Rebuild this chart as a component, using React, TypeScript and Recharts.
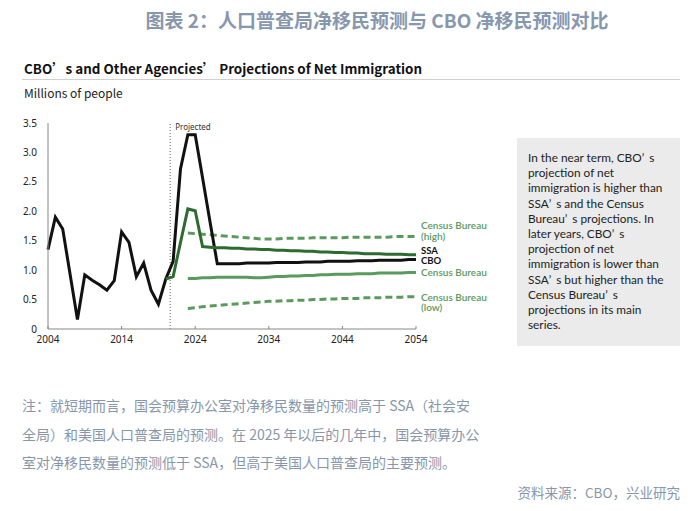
import { LineChart, Line, XAxis, YAxis, ReferenceLine } from "recharts";

// years on the x axis
const years = Array.from({ length: 51 }, (_, i) => 2004 + i);

// CBO: history from 2004, projection to 2054
const cbo = [
    1.35, 1.9, 1.7, 0.93, 0.16, 0.92, 0.83, 0.75, 0.66, 0.82,
    1.65, 1.47, 0.89, 1.12, 0.66, 0.42, 0.85, 1.15, 2.72, 3.3,
    3.3, 2.57, 1.83, 1.11, 1.11, 1.11, 1.11, 1.12, 1.12, 1.12,
    1.12, 1.13, 1.13, 1.13, 1.13, 1.14, 1.14, 1.14, 1.15, 1.15,
    1.15, 1.15, 1.16, 1.16, 1.16, 1.17, 1.17, 1.17, 1.17, 1.18,
    1.18,
];

// SSA from 2020
const ssaStart = 2020;
const ssa = [
    0.85, 0.89, 1.47, 2.04, 2.01, 1.4, 1.39, 1.38, 1.38, 1.37,
    1.37, 1.36, 1.36, 1.35, 1.35, 1.34, 1.34, 1.33, 1.33, 1.32,
    1.32, 1.31, 1.31, 1.3, 1.3, 1.29, 1.29, 1.28, 1.28, 1.28,
    1.27, 1.27, 1.27, 1.26, 1.26,
];

// Census Bureau series from 2023
const censusStart = 2023;
const census = [
    0.86, 0.86, 0.87, 0.87, 0.88, 0.88, 0.88, 0.88, 0.88, 0.87,
    0.87, 0.88, 0.89, 0.89, 0.9, 0.9, 0.91, 0.91, 0.92, 0.92,
    0.93, 0.93, 0.93, 0.94, 0.94, 0.94, 0.95, 0.95, 0.95, 0.95,
    0.96, 0.96,
];
const censusHigh = [
    1.63, 1.62, 1.61, 1.6, 1.59, 1.58, 1.57, 1.56, 1.55, 1.54,
    1.53, 1.53, 1.53, 1.54, 1.54, 1.54, 1.54, 1.55, 1.55, 1.55,
    1.55, 1.55, 1.56, 1.56, 1.56, 1.56, 1.56, 1.56, 1.57, 1.57,
    1.57, 1.57,
];
const censusLow = [
    0.35, 0.36, 0.38, 0.39, 0.4, 0.41, 0.42, 0.43, 0.44, 0.45,
    0.46, 0.47, 0.47, 0.48, 0.48, 0.49, 0.49, 0.5, 0.5, 0.51,
    0.51, 0.52, 0.52, 0.52, 0.53, 0.53, 0.53, 0.54, 0.54, 0.54,
    0.55, 0.55,
];

const xTicks = [2004, 2014, 2024, 2034, 2044, 2054];
const yTicks = [0, 0.5, 1, 1.5, 2, 2.5, 3, 3.5];
const projectedFrom = 2020.6;

const title = "图表 2：人口普查局净移民预测与 CBO 净移民预测对比";
const subtitle = "CBO’s and Other Agencies’ Projections of Net Immigration";
const unitLabel = "Millions of people";
const boxLines = [
    "In the near term, CBO’s",
    "projection of net",
    "immigration is higher than",
    "SSA’s and the Census",
    "Bureau’s projections. In",
    "later years, CBO’s",
    "projection of net",
    "immigration is lower than",
    "SSA’s but higher than the",
    "Census Bureau’s",
    "projections in its main",
    "series.",
];
const noteLines = [
    "注：就短期而言，国会预算办公室对净移民数量的预测高于 SSA（社会安",
    "全局）和美国人口普查局的预测。在 2025 年以后的几年中，国会预算办公",
    "室对净移民数量的预测低于 SSA，但高于美国人口普查局的主要预测。",
];
const source = "资料来源：CBO，兴业研究";

// labels next to the line ends: text, top, colour, weight, size
const seriesLabels: [string, number, string, number, number][] = [
    ["Census Bureau", 220, "#5a9a5c", 600, 10],
    ["(high)", 231, "#5a9a5c", 600, 10],
    ["SSA", 246.3, "#111111", 700, 9.5],
    ["CBO", 255.8, "#111111", 700, 9.5],
    ["Census Bureau", 266.5, "#5a9a5c", 600, 10],
    ["Census Bureau", 291.5, "#5a9a5c", 600, 10],
    ["(low)", 302, "#5a9a5c", 600, 10],
];

const at = (arr: number[], start: number, y: number) =>
    y >= start && y - start < arr.length ? arr[y - start] : null;

const data = years.map((y) => ({
    year: y,
    cbo: at(cbo, 2004, y),
    ssa: at(ssa, ssaStart, y),
    census: at(census, censusStart, y),
    censusHigh: at(censusHigh, censusStart, y),
    censusLow: at(censusLow, censusStart, y),
}));

const BLACK = "#111111";
const DARK_GREEN = "#2d6b30";
const GREEN = "#5a9a5c";
const NOTE = "#8796ab";
const CJK = "'Noto Sans CJK SC', 'Noto Sans', sans-serif";

// the source shows a wide gap after ’
function Quoted({ text }: { text: string }) {
    const parts = text.split("’");
    return (
        <>
            {parts.map((p, i) => (
                <span key={i}>
                    {p}
                    {i < parts.length - 1 && <span style={{ letterSpacing: 5 }}>’</span>}
                </span>
            ))}
        </>
    );
}

export default function App() {
    return (
        <div
            style={{
                position: "absolute",
                left: 0,
                top: 0,
                width: 700,
                height: 511,
                background: "#fff",
                overflow: "hidden",
                fontFamily: CJK,
            }}
        >
            <div
                style={{
                    position: "absolute",
                    left: 0,
                    width: 754,
                    top: 7,
                    textAlign: "center",
                    fontSize: 19,
                    fontWeight: 700,
                    color: "#8797ad",
                    lineHeight: "26px",
                    whiteSpace: "nowrap",
                }}
            >
                {title}
            </div>

            <div
                style={{
                    position: "absolute",
                    left: 24,
                    top: 58,
                    fontSize: 13.4,
                    fontWeight: 700,
                    color: "#111",
                    lineHeight: "20px",
                    whiteSpace: "nowrap",
                }}
            >
                {subtitle}
            </div>
            <div
                style={{
                    position: "absolute",
                    left: 22,
                    top: 79,
                    width: 658,
                    height: 1,
                    background: "#d0d0d0",
                }}
            />
            <div
                style={{
                    position: "absolute",
                    left: 24,
                    top: 85,
                    fontSize: 12,
                    color: "#222",
                    lineHeight: "16px",
                }}
            >
                {unitLabel}
            </div>

            <div style={{ position: "absolute", left: 0, top: 0 }}>
                <LineChart
                    width={700}
                    height={511}
                    data={data}
                    margin={{ top: 123, right: 284, bottom: 152, left: 0 }}
                >
                    <XAxis
                        dataKey="year"
                        type="number"
                        domain={[2004, 2054]}
                        ticks={xTicks}
                        height={30}
                        tickSize={-3}
                        tickMargin={10}
                        stroke="#888"
                        tick={{ fontSize: 10, fill: "#222", fontFamily: "'Noto Sans', sans-serif" }}
                    />
                    <YAxis
                        type="number"
                        domain={[0, 3.5]}
                        ticks={yTicks}
                        width={48}
                        tickLine={false}
                        tickSize={0}
                        tickMargin={11}
                        stroke="#888"
                        tickFormatter={(v: number) => (v === 0 ? "0" : v.toFixed(1))}
                        tick={{ fontSize: 10, fill: "#222", fontFamily: "'Noto Sans', sans-serif" }}
                    />
                    <ReferenceLine
                        x={projectedFrom}
                        stroke="#666"
                        strokeDasharray="1 2"
                        label={(props: any) => (
                            <text
                                x={props.viewBox.x + 5}
                                y={props.viewBox.y + 7}
                                fontSize={8}
                                fill="#333"
                                fontFamily="'Noto Sans', sans-serif"
                            >
                                Projected
                            </text>
                        )}
                    />
                    <Line
                        dataKey="censusLow"
                        stroke={GREEN}
                        strokeWidth={3}
                        strokeDasharray="7 4"
                        dot={false}
                        isAnimationActive={false}
                    />
                    <Line
                        dataKey="censusHigh"
                        stroke={GREEN}
                        strokeWidth={3}
                        strokeDasharray="7 4"
                        dot={false}
                        isAnimationActive={false}
                    />
                    <Line
                        dataKey="census"
                        stroke={GREEN}
                        strokeWidth={3}
                        dot={false}
                        isAnimationActive={false}
                    />
                    <Line
                        dataKey="cbo"
                        stroke={BLACK}
                        strokeWidth={3}
                        dot={false}
                        strokeLinejoin="miter"
                        isAnimationActive={false}
                    />
                    <Line
                        dataKey="ssa"
                        stroke={DARK_GREEN}
                        strokeWidth={3}
                        dot={false}
                        isAnimationActive={false}
                    />
                </LineChart>
            </div>

            {/* series labels at the right end of the lines */}
            {seriesLabels.map(([t, top, c, w, fs], i) => (
                <div
                    key={i}
                    style={{
                        position: "absolute",
                        left: 421,
                        top,
                        fontFamily: "Lato, sans-serif",
                        fontSize: fs,
                        fontWeight: w,
                        color: c,
                        lineHeight: `${fs}px`,
                        height: fs,
                        whiteSpace: "nowrap",
                    }}
                >
                    {t}
                </div>
            ))}

            <div
                style={{
                    position: "absolute",
                    left: 517,
                    top: 138,
                    width: 163,
                    height: 208,
                    background: "#ebebeb",
                }}
            >
                <div
                    style={{
                        position: "absolute",
                        left: 11,
                        top: 12,
                        fontFamily: "Lato, sans-serif",
                        fontSize: 11.8,
                        color: "#222",
                        whiteSpace: "nowrap",
                    }}
                >
                    {boxLines.map((l, i) => (
                        <div key={i} style={{ height: 15.2, lineHeight: "15.2px" }}>
                            <Quoted text={l} />
                        </div>
                    ))}
                </div>
            </div>

            <div
                style={{
                    position: "absolute",
                    left: 22,
                    top: 391,
                    fontSize: 14,
                    lineHeight: "28.5px",
                    color: NOTE,
                    whiteSpace: "nowrap",
                }}
            >
                {noteLines.map((l, i) => (
                    <div key={i}>{l}</div>
                ))}
            </div>
            <div
                style={{
                    position: "absolute",
                    right: 20,
                    top: 482,
                    fontSize: 13.5,
                    lineHeight: "20px",
                    color: NOTE,
                    whiteSpace: "nowrap",
                }}
            >
                {source}
            </div>
        </div>
    );
}
